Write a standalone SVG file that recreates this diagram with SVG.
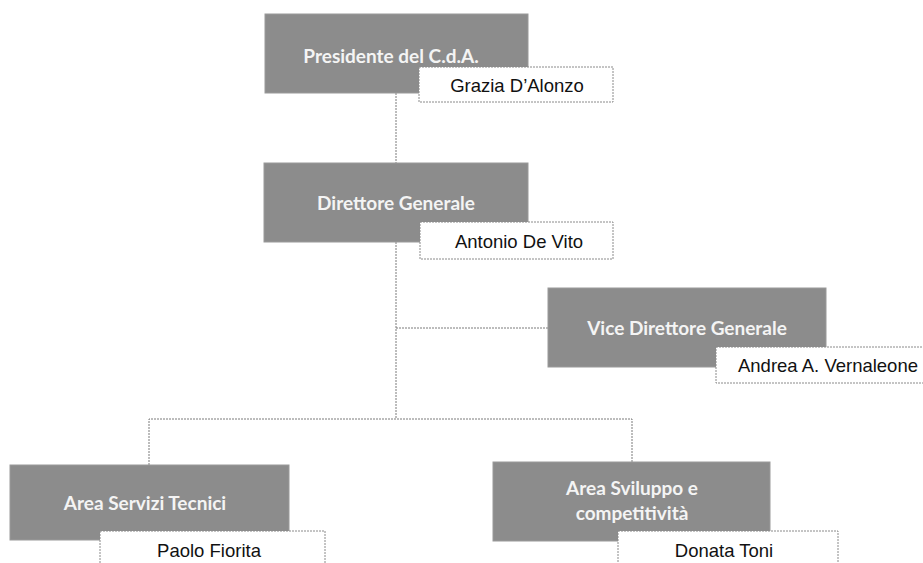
<svg xmlns="http://www.w3.org/2000/svg" width="923" height="563" viewBox="0 0 923 563">
<style>
.box{fill:#8c8c8c;stroke:#9a9a9a;stroke-width:1}
.name{fill:#ffffff;stroke:#8a8a8a;stroke-width:1;stroke-dasharray:2 1}
.t{font-family:Lato,"Open Sans",sans-serif;font-weight:bold;font-size:19px;fill:#f4f4f4;text-anchor:middle}
.n{font-family:"Liberation Sans",Arial,sans-serif;font-size:18.5px;fill:#111;text-anchor:middle}
.c{fill:none;stroke:#7a7a7a;stroke-width:1;stroke-dasharray:2 1}
</style>
<rect width="923" height="563" fill="#ffffff"/>
<g id="connectors">
<line class="c" x1="396" y1="93" x2="396" y2="163"/>
<line class="c" x1="396" y1="242" x2="396" y2="419"/>
<line class="c" x1="396" y1="328" x2="548" y2="328"/>
<polyline class="c" points="149,465 149,419 632,419 632,462"/>
</g>
<g id="presidente">
<rect class="box" x="265" y="14" width="263" height="79"/>
<text class="t" x="391" y="63">Presidente del C.d.A.</text>
<rect class="name" x="419" y="67" width="194" height="35"/>
<text class="n" x="517" y="92">Grazia D’Alonzo</text>
</g>
<g id="direttore">
<rect class="box" x="264" y="163" width="264" height="79"/>
<text class="t" x="396" y="210">Direttore Generale</text>
<rect class="name" x="420" y="222" width="193" height="37"/>
<text class="n" x="519" y="248">Antonio De Vito</text>
</g>
<g id="vice">
<rect class="box" x="548" y="288" width="278" height="79"/>
<text class="t" x="687" y="335">Vice Direttore Generale</text>
<rect class="name" x="716" y="347" width="215" height="36"/>
<text class="n" x="828" y="372">Andrea A. Vernaleone</text>
</g>
<g id="servizi">
<rect class="box" x="10" y="465" width="279" height="75"/>
<text class="t" x="145" y="510">Area Servizi Tecnici</text>
<rect class="name" x="100" y="531" width="225" height="40"/>
<text class="n" x="209" y="557">Paolo Fiorita</text>
</g>
<g id="sviluppo">
<rect class="box" x="493" y="462" width="277" height="79"/>
<text class="t" x="632" y="495">Area Sviluppo e</text>
<text class="t" x="632" y="520">competitività</text>
<rect class="name" x="618" y="531" width="220" height="40"/>
<text class="n" x="724" y="557">Donata Toni</text>
</g>
</svg>
